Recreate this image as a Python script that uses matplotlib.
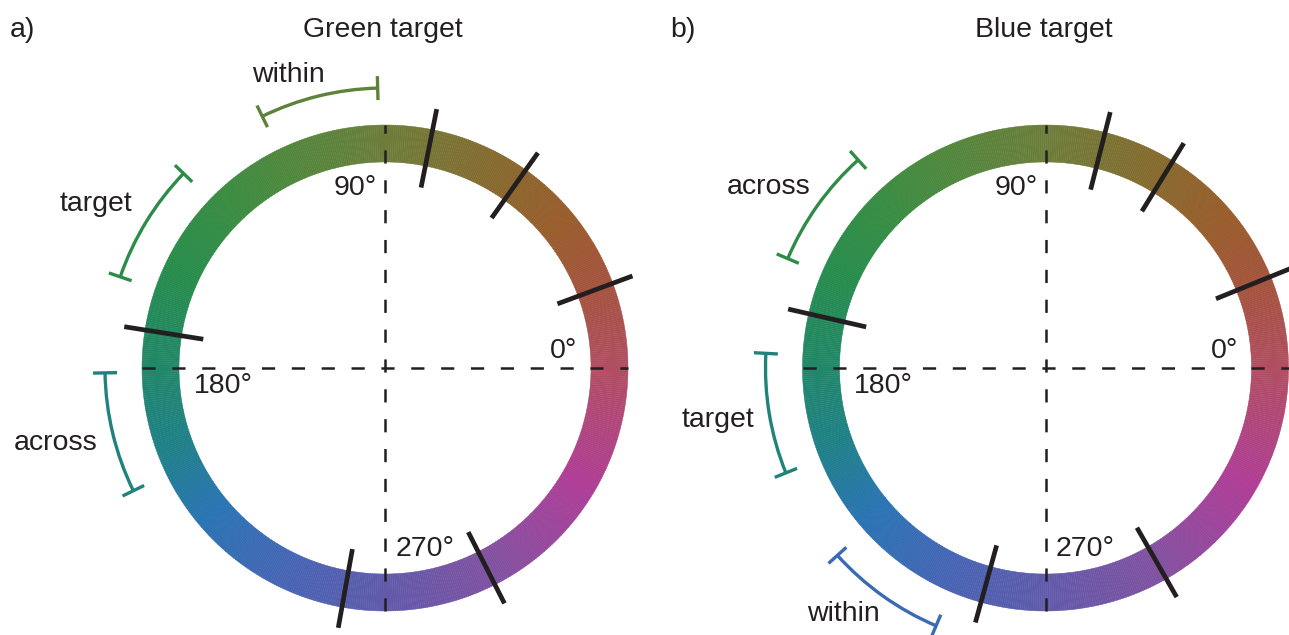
import numpy as np
import matplotlib.pyplot as plt
from matplotlib.patches import Wedge, Arc
from matplotlib.colors import LinearSegmentedColormap

plt.rcParams['font.family'] = ['Liberation Sans', 'DejaVu Sans']
plt.rcParams['lines.scale_dashes'] = False

INK = '#231f20'
FS = 20.5

# hue wheel anchors (deg -> rgb)
wheel_angles = [0, 20, 40, 60, 90, 115, 135, 155, 180, 200, 220, 245, 270, 300, 330, 360]
wheel_rgb = ['#b04e62', '#a5523e', '#985c2a', '#87692d', '#6c7d3a', '#50873c', '#378c41',
             '#268c4b', '#208769', '#1e8087', '#2873b4', '#4664b4', '#605aaa', '#8250a0',
             '#af3c96', '#b04e62']

# category boundaries (deg) for each target condition
bounds_green = [20.4, 54.6, 78.7, 171.0, 259.8, 296.9]
bounds_blue = [22.1, 58.4, 75.8, 167.1, 254.6, 299.8]

# bracket ranges (deg): label, start, end
ranges_green = [('within', 91.5, 116.0), ('target', 136.0, 161.0), ('across', 181.0, 206.0)]
ranges_blue = [('across', 132.0, 157.0), ('target', 177.0, 202.0), ('within', 222.0, 247.0)]

# label centres for the brackets (offsets from wheel centre, px)
labels_green = {'within': (-97, 293), 'target': (-289, 164), 'across': (-329, -75)}
labels_blue = {'across': (-277, 181), 'target': (-327, -52), 'within': (-202, -246)}

R_OUT, R_IN = 243.0, 206.0
R_BRACKET = 280.0

wheel = LinearSegmentedColormap.from_list(
    'wheel', list(zip(np.array(wheel_angles) / 360, wheel_rgb)), N=720)


def wheel_color(theta):
    return wheel((theta % 360) / 360)


def draw_panel(ax, letter, title, bounds, ranges, label_pos):
    # ring
    step = 0.5
    for t in np.arange(0, 360, step):
        c = wheel_color(t + step / 2)
        ax.add_patch(Wedge((0, 0), R_OUT, t, t + step * 1.05, width=R_OUT - R_IN,
                           facecolor=c, edgecolor=c, linewidth=0.3))

    # dashed axes
    ax.plot([-R_OUT, R_OUT], [0, 0], color=INK, lw=1.8, ls=(0, (9.5, 12)), zorder=3)
    ax.plot([0, 0], [-R_OUT, R_OUT], color=INK, lw=1.8, ls=(0, (9.5, 12)), zorder=3)

    # category boundaries
    for b in bounds:
        th = np.deg2rad(b)
        r = np.array([184, 264])
        ax.plot(r * np.cos(th), r * np.sin(th), color=INK, lw=3.4,
                solid_capstyle='butt', zorder=4)

    # brackets
    for name, t1, t2 in ranges:
        col = wheel_color((t1 + t2) / 2)
        ax.add_patch(Arc((0, 0), 2 * R_BRACKET, 2 * R_BRACKET, theta1=t1, theta2=t2,
                         color=col, lw=2.4))
        for t in (t1, t2):
            th = np.deg2rad(t)
            r = np.array([R_BRACKET - 12, R_BRACKET + 12])
            ax.plot(r * np.cos(th), r * np.sin(th), color=col, lw=2.4,
                    solid_capstyle='butt')
        x, y = label_pos[name]
        ax.text(x, y, name, fontsize=FS, color=INK, ha='center', va='center')

    # degree labels
    ax.text(-8, 180, '90°', fontsize=FS, color=INK, ha='right', va='center')
    ax.text(179, 17, '0°', fontsize=FS, color=INK, ha='center', va='center')
    ax.text(-162, -18, '180°', fontsize=FS, color=INK, ha='center', va='center')
    ax.text(40, -181, '270°', fontsize=FS, color=INK, ha='center', va='center')

    ax.text(-375, 338, letter, fontsize=FS, color=INK, ha='left', va='center')
    ax.text(-2, 338, title, fontsize=FS, color=INK, ha='center', va='center')


fig = plt.figure(figsize=(12.89, 6.35), dpi=100)
ax_a = fig.add_axes([0, 0, 660 / 1289, 1])
ax_a.set_xlim(-385, 275)
ax_a.set_ylim(-267, 368)
ax_b = fig.add_axes([660 / 1289, 0, 629 / 1289, 1])
ax_b.set_xlim(-385.5, 243.5)
ax_b.set_ylim(-267, 368)

draw_panel(ax_a, 'a)', 'Green target', bounds_green, ranges_green, labels_green)
draw_panel(ax_b, 'b)', 'Blue target', bounds_blue, ranges_blue, labels_blue)

for ax in (ax_a, ax_b):
    ax.axis('off')

fig.savefig('out.png', dpi=100)
